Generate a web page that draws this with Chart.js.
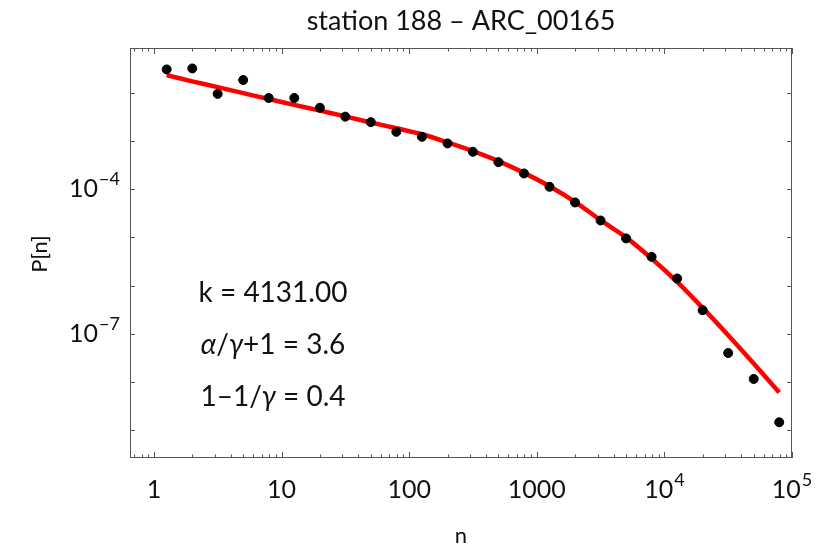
<!DOCTYPE html>
<html>
<head>
<meta charset="utf-8">
<script src="https://cdn.jsdelivr.net/npm/chart.js@4"></script>
<style>
html,body{margin:0;padding:0;background:#fff;}
#wrap{width:833px;height:550px;}
</style>
</head>
<body>
<div id="wrap"><canvas id="chart" width="833" height="550"></canvas></div>
<script>
// data
const nValues=[1.26,2,3.16,5.01,7.94,12.6,20,31.6,50.1,79.4,126,200,316,501,794,1259,1995,3162,5012,7943,12589,19953,31623,50119,79433];
const pObserved=[3.06e-2,3.2e-2,9.5e-3,1.84e-2,7.8e-3,7.8e-3,4.9e-3,3.2e-3,2.46e-3,1.55e-3,1.22e-3,8.9e-4,5.96e-4,3.64e-4,2.12e-4,1.12e-4,5.3e-5,2.24e-5,9.5e-6,3.93e-6,1.4e-6,3.07e-7,3.98e-8,1.15e-8,1.45e-9];
const pFit=[2.33e-2,1.73e-2,1.31e-2,9.86e-3,7.43e-3,5.62e-3,4.27e-3,3.24e-3,2.42e-3,1.84e-3,1.38e-3,9.33e-4,6.15e-4,3.82e-4,2.18e-4,1.15e-4,5.46e-5,2.27e-5,1.0e-5,3.63e-6,1.19e-6,3.43e-7,9.29e-8,2.4e-8,6.0e-9];
const xTickLabels=[[1,"1",null],[10,"10",null],[100,"100",null],[1000,"1000",null],[1e4,"10","4"],[1e5,"10","5"]];
const yTickLabels=[[1e-4,"10","\u22124"],[1e-7,"10","\u22127"]];
const yDecades=[1e-9,1e-8,1e-7,1e-6,1e-5,1e-4,1e-3,1e-2];
const annotations=["k = 4131.00","\u03B1/\u03B3+1 = 3.6","1\u20131/\u03B3 = 0.4"];

const FONT="Lato, 'Open Sans', sans-serif";

function drawPow(ctx,base,exp,x,y,align,size){
ctx.font=size+"px "+FONT;
const wb=ctx.measureText(base).width;
ctx.font=Math.round(size*0.7)+"px "+FONT;
const we=exp?ctx.measureText(exp).width+1:0;
const total=wb+we;
let sx=align==="right"?x-total:x-total/2;
ctx.textAlign="left";
ctx.textBaseline="middle";
ctx.font=size+"px "+FONT;
ctx.fillText(base,sx,y);
if(exp){
ctx.font=Math.round(size*0.7)+"px "+FONT;
ctx.fillText(exp,sx+wb+1,y-10);
}
}

const framePlugin={
id:"frame",
afterDraw(c){
const ctx=c.ctx,a=c.chartArea,xs=c.scales.x,ys=c.scales.y;
ctx.save();
ctx.strokeStyle="#555";
ctx.lineWidth=1;
ctx.strokeRect(a.left+0.5,a.top+0.5,a.right-a.left-1,a.bottom-a.top-1);
// x ticks, top and bottom
ctx.beginPath();
for(let d=0.1;d<=1e5;d*=10){
for(let m=1;m<10;m++){
const v=d*m;
if(v<xs.min||v>xs.max)continue;
const px=Math.round(xs.getPixelForValue(v))+0.5;
const len=m===1?6:3.5;
ctx.moveTo(px,a.bottom);ctx.lineTo(px,a.bottom-len);
ctx.moveTo(px,a.top);ctx.lineTo(px,a.top+len);
}
}
// y ticks, left and right
yDecades.forEach(v=>{
const py=Math.round(ys.getPixelForValue(v))+0.5;
ctx.moveTo(a.left,py);ctx.lineTo(a.left+5,py);
ctx.moveTo(a.right,py);ctx.lineTo(a.right-5,py);
});
ctx.stroke();

ctx.fillStyle="#111";
xTickLabels.forEach(t=>{
drawPow(ctx,t[1],t[2],xs.getPixelForValue(t[0]),490,"center",25);
});
yTickLabels.forEach(t=>{
drawPow(ctx,t[1],t[2],a.left-10,ys.getPixelForValue(t[0]),"right",25);
});

// title
ctx.textAlign="center";ctx.textBaseline="middle";
ctx.font="27px "+FONT;
ctx.fillText("station 188 \u2013 ARC_00165",(a.left+a.right)/2,21);
// axis titles
ctx.font="22px "+FONT;
ctx.fillText("n",(a.left+a.right)/2,536);
ctx.save();
ctx.translate(40,254);ctx.rotate(-Math.PI/2);
ctx.fillText("P[n]",0,0);
ctx.restore();

// fit parameters
const ay=[293,345,397];
const fs="28px ";
annotations.forEach((s,i)=>{
const parts=s.split(/([\u03B1\u03B3])/);
let w=0;
parts.forEach(p=>{
ctx.font=(/[\u03B1\u03B3]/.test(p)?"italic ":"")+fs+FONT;
w+=ctx.measureText(p).width;
});
let x=273-w/2;
ctx.textAlign="left";
parts.forEach(p=>{
ctx.font=(/[\u03B1\u03B3]/.test(p)?"italic ":"")+fs+FONT;
ctx.fillText(p,x,ay[i]);
x+=ctx.measureText(p).width;
});
});
ctx.restore();
}
};

const ctx=document.getElementById("chart").getContext("2d");
new Chart(ctx,{
type:"scatter",
data:{
datasets:[
{
label:"data",
data:nValues.map((n,i)=>({x:n,y:pObserved[i]})),
backgroundColor:"#000",
borderColor:"#000",
pointRadius:4.5,
pointHoverRadius:4.5
},
{
label:"fit",
type:"line",
data:nValues.map((n,i)=>({x:n,y:pFit[i]})),
borderColor:"#ff0000",
borderWidth:4.5,
pointRadius:0,
tension:0.3,
fill:false
}
]
},
options:{
responsive:false,
animation:false,
layout:{padding:{left:130,right:41,top:48,bottom:92}},
plugins:{legend:{display:false},tooltip:{enabled:false},title:{display:false}},
scales:{
x:{type:"logarithmic",display:false,min:0.65,max:1e5},
y:{type:"logarithmic",display:false,min:Math.pow(10,-9.58),max:Math.pow(10,-1.07)}
}
},
plugins:[framePlugin]
});
</script>
</body>
</html>
